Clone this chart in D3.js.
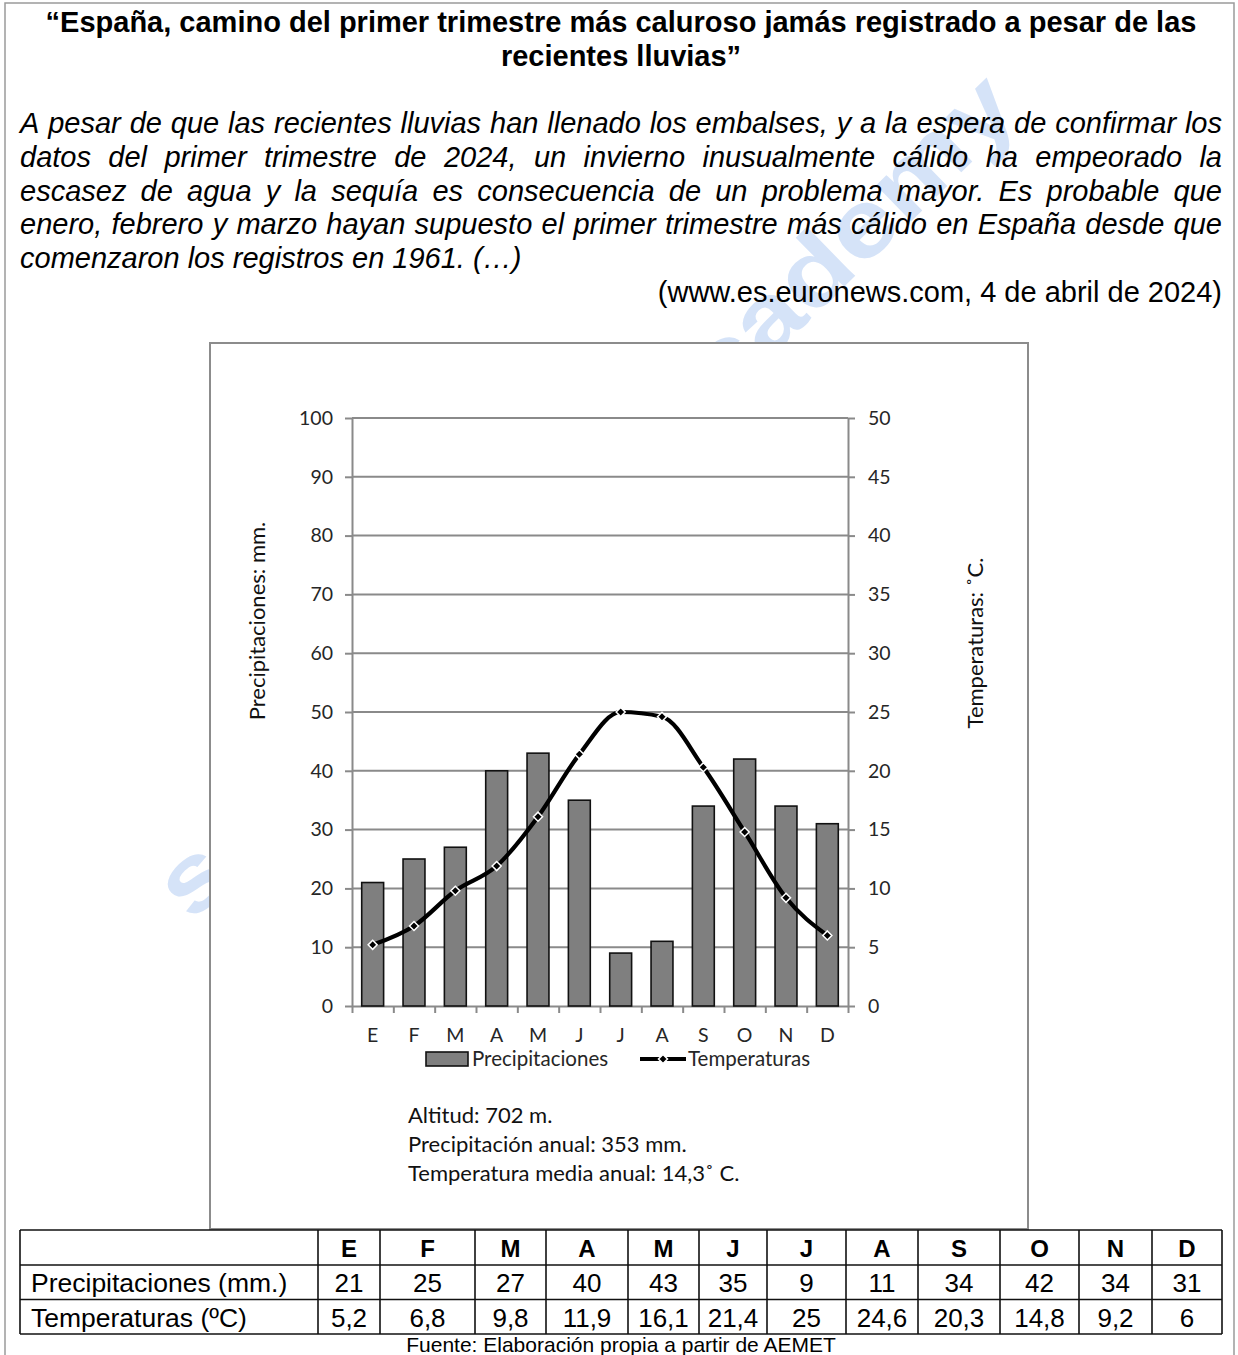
<!DOCTYPE html>
<html>
<head>
<meta charset="utf-8">
<script src="https://cdn.jsdelivr.net/npm/d3@7"></script>
<style>
  body { margin: 0; background: #fff; }
  svg { display: block; }
</style>
</head>
<body>
<div id="page"></div>
<script>
const months = ['E', 'F', 'M', 'A', 'M', 'J', 'J', 'A', 'S', 'O', 'N', 'D'];
const precip = [21, 25, 27, 40, 43, 35, 9, 11, 34, 42, 34, 31];
const temps = [5.2, 6.8, 9.8, 11.9, 16.1, 21.4, 25, 24.6, 20.3, 14.8, 9.2, 6];
const precipTicks = [0, 10, 20, 30, 40, 50, 60, 70, 80, 90, 100];
const tempTicks = [0, 5, 10, 15, 20, 25, 30, 35, 40, 45, 50];

const titleLines = [
  '“España, camino del primer trimestre más caluroso jamás registrado a pesar de las',
  'recientes lluvias”'
];
const paragraphLines = [
  'A pesar de que las recientes lluvias han llenado los embalses, y a la espera de confirmar los',
  'datos del primer trimestre de 2024, un invierno inusualmente cálido ha empeorado la',
  'escasez de agua y la sequía es consecuencia de un problema mayor. Es probable que',
  'enero, febrero y marzo hayan supuesto el primer trimestre más cálido en España desde que',
  'comenzaron los registros en 1961. (…)'
];
const sourceText = '(www.es.euronews.com, 4 de abril de 2024)';
const stationInfo = [
  'Altitud: 702 m.',
  'Precipitación anual: 353 mm.',
  'Temperatura media anual: 14,3˚ C.'
];
const rowLabels = ['Precipitaciones (mm.)', 'Temperaturas (ºC)'];
const footnote = 'Fuente: Elaboración propia a partir de AEMET';

const W = 1238;
const H = 1355;
const SANS = '"Liberation Sans", Arial, sans-serif';
const CAL = 'Lato, "Open Sans", sans-serif';
const GRID = '#8a8a8a';

const svg = d3.select('#page').append('svg')
  .attr('width', W)
  .attr('height', H);

// faint watermark, mostly hidden by the chart box
svg.append('text')
  .attr('transform', 'translate(192,923) rotate(-44.3)')
  .attr('textLength', 1160)
  .attr('lengthAdjust', 'spacingAndGlyphs')
  .style('font-family', SANS)
  .style('font-weight', 'bold')
  .style('font-size', '95px')
  .style('fill', '#d5e3f8')
  .text('selectividad academy');

// page frame
svg.append('rect')
  .attr('x', 5).attr('y', 3)
  .attr('width', 1229).attr('height', 1370)
  .attr('fill', 'none')
  .attr('stroke', '#9a9a9a')
  .attr('stroke-width', 1.5);

// title
svg.append('g')
  .selectAll('text')
  .data(titleLines)
  .enter()
  .append('text')
  .attr('x', 621)
  .attr('y', (d, i) => 32 + i * 34)
  .attr('text-anchor', 'middle')
  .style('font-family', SANS)
  .style('font-weight', 'bold')
  .style('font-size', '29px')
  .text(d => d);

// justified italic paragraph
const para = svg.append('g')
  .style('font-family', SANS)
  .style('font-style', 'italic')
  .style('font-size', '29px');

const measure = para.append('text');
const wordWidth = w => { measure.text(w); return measure.node().getComputedTextLength(); };

paragraphLines.forEach((line, li) => {
  const y = 133 + li * 33.8;
  const words = line.split(' ');
  const t = para.append('text').attr('y', y);
  if (li === paragraphLines.length - 1) {
    t.attr('x', 20).text(line);
    return;
  }
  const widths = words.map(wordWidth);
  const gap = (1222 - 20 - d3.sum(widths)) / (words.length - 1);
  let x = 20;
  words.forEach((w, wi) => {
    t.append('tspan').attr('x', x).text(w);
    x += widths[wi] + gap;
  });
});
measure.remove();

svg.append('text')
  .attr('x', 1222)
  .attr('y', 302)
  .attr('text-anchor', 'end')
  .style('font-family', SANS)
  .style('font-size', '29px')
  .text(sourceText);

// chart box
svg.append('rect')
  .attr('x', 210).attr('y', 343)
  .attr('width', 818).attr('height', 886)
  .attr('fill', '#fff')
  .attr('stroke', '#8c8c8c')
  .attr('stroke-width', 2);

const plot = { left: 352, right: 848, top: 418, bottom: 1006 };

const x = d3.scaleBand()
  .domain(d3.range(months.length))
  .range([plot.left, plot.right])
  .paddingInner(0.47)
  .paddingOuter(0.235);
const xEdge = d3.scaleLinear().domain([0, months.length]).range([plot.left, plot.right]);
const yP = d3.scaleLinear().domain([0, 100]).range([plot.bottom, plot.top]);
const yT = d3.scaleLinear().domain([0, 50]).range([plot.bottom, plot.top]);
const cx = i => x(i) + x.bandwidth() / 2;

// gridlines
svg.append('g')
  .selectAll('line')
  .data(precipTicks.slice(1))
  .enter()
  .append('line')
  .attr('x1', plot.left).attr('x2', plot.right)
  .attr('y1', d => yP(d)).attr('y2', d => yP(d))
  .attr('stroke', GRID)
  .attr('stroke-width', 2);

const styleAxis = g => {
  g.select('.domain').attr('stroke', GRID).attr('stroke-width', 2);
  g.selectAll('.tick line').attr('stroke', GRID).attr('stroke-width', 2);
  g.selectAll('.tick text')
    .style('font-family', CAL)
    .style('font-size', '19.5px')
    .attr('fill', '#262626');
};

svg.append('g')
  .attr('transform', `translate(${plot.left},0)`)
  .call(d3.axisLeft(yP).tickValues(precipTicks).tickSizeInner(7).tickSizeOuter(0).tickPadding(12))
  .call(styleAxis);

svg.append('g')
  .attr('transform', `translate(${plot.right},0)`)
  .call(d3.axisRight(yT).tickValues(tempTicks).tickSizeInner(7).tickSizeOuter(0).tickPadding(13))
  .call(styleAxis);

// bottom axis: ticks at month boundaries, labels under bars
svg.append('g')
  .attr('transform', `translate(0,${plot.bottom})`)
  .call(d3.axisBottom(xEdge).tickValues(d3.range(months.length + 1)).tickFormat('').tickSizeInner(7).tickSizeOuter(0))
  .call(styleAxis);

svg.append('g')
  .attr('transform', `translate(0,${plot.bottom})`)
  .call(d3.axisBottom(x).tickFormat(i => months[i]).tickSize(0).tickPadding(22))
  .call(g => g.select('.domain').remove())
  .call(styleAxis);

// precipitation bars
svg.append('g')
  .selectAll('rect')
  .data(precip)
  .enter()
  .append('rect')
  .attr('x', (d, i) => x(i))
  .attr('y', d => yP(d))
  .attr('width', x.bandwidth())
  .attr('height', d => yP(0) - yP(d))
  .attr('fill', '#7f7f7f')
  .attr('stroke', '#111')
  .attr('stroke-width', 1.6);

// temperature line
const line = d3.line()
  .x((d, i) => cx(i))
  .y(d => yT(d))
  .curve(d3.curveMonotoneX);

svg.append('path')
  .datum(temps)
  .attr('d', line)
  .attr('fill', 'none')
  .attr('stroke', '#000')
  .attr('stroke-width', 4.2)
  .attr('stroke-linejoin', 'round');

const diamond = d3.symbol().type(d3.symbolDiamond2).size(52);

svg.append('g')
  .selectAll('path')
  .data(temps)
  .enter()
  .append('path')
  .attr('d', diamond)
  .attr('transform', (d, i) => `translate(${cx(i)},${yT(d)})`)
  .attr('fill', '#000')
  .attr('stroke', '#fff')
  .attr('stroke-width', 1.5);

// axis titles
svg.append('text')
  .attr('transform', 'translate(265,621) rotate(-90)')
  .attr('text-anchor', 'middle')
  .style('font-family', CAL)
  .style('font-size', '22px')
  .attr('fill', '#111')
  .text('Precipitaciones: mm.');

svg.append('text')
  .attr('transform', 'translate(983,643) rotate(-90)')
  .attr('text-anchor', 'middle')
  .style('font-family', CAL)
  .style('font-size', '22px')
  .attr('fill', '#111')
  .text('Temperaturas: ˚C.');

// legend
const legend = svg.append('g')
  .style('font-family', CAL)
  .style('font-size', '20.5px')
  .attr('fill', '#262626');

legend.append('rect')
  .attr('x', 426).attr('y', 1052)
  .attr('width', 42).attr('height', 14)
  .attr('fill', '#7f7f7f')
  .attr('stroke', '#111')
  .attr('stroke-width', 1.6);
legend.append('text').attr('x', 472).attr('y', 1066).text('Precipitaciones');

legend.append('line')
  .attr('x1', 640).attr('x2', 686)
  .attr('y1', 1059).attr('y2', 1059)
  .attr('stroke', '#000')
  .attr('stroke-width', 4.2);
legend.append('path')
  .attr('d', diamond)
  .attr('transform', 'translate(663,1059)')
  .attr('fill', '#000')
  .attr('stroke', '#fff')
  .attr('stroke-width', 1.5);
legend.append('text').attr('x', 688).attr('y', 1066).text('Temperaturas');

// station info
svg.append('g')
  .selectAll('text')
  .data(stationInfo)
  .enter()
  .append('text')
  .attr('x', 408)
  .attr('y', (d, i) => 1123 + i * 29)
  .style('font-family', CAL)
  .style('font-size', '22px')
  .attr('fill', '#111')
  .text(d => d);

// data table
const colEdges = [20, 318, 380, 475, 546, 628, 699, 767, 846, 918, 1000, 1079, 1152, 1222];
const rowEdges = [1230, 1265, 1299.5, 1334];
const table = svg.append('g');

table.append('rect')
  .attr('x', colEdges[0]).attr('y', rowEdges[0])
  .attr('width', colEdges[colEdges.length - 1] - colEdges[0])
  .attr('height', rowEdges[3] - rowEdges[0])
  .attr('fill', '#fff');

table.selectAll('line.h')
  .data(rowEdges)
  .enter()
  .append('line')
  .attr('x1', colEdges[0]).attr('x2', colEdges[colEdges.length - 1])
  .attr('y1', d => d).attr('y2', d => d)
  .attr('stroke', '#111').attr('stroke-width', 1.6);

table.selectAll('line.v')
  .data(colEdges)
  .enter()
  .append('line')
  .attr('x1', d => d).attr('x2', d => d)
  .attr('y1', rowEdges[0]).attr('y2', rowEdges[3])
  .attr('stroke', '#111').attr('stroke-width', 1.6);

const colMid = i => (colEdges[i + 1] + colEdges[i + 2]) / 2;

table.selectAll('text.head')
  .data(months)
  .enter()
  .append('text')
  .attr('x', (d, i) => colMid(i))
  .attr('y', 1257)
  .attr('text-anchor', 'middle')
  .style('font-family', SANS)
  .style('font-weight', 'bold')
  .style('font-size', '24px')
  .text(d => d);

const rows = [precip.map(String), temps.map(v => String(v).replace('.', ','))];
rows.forEach((vals, r) => {
  const y = 1292 + r * 35;
  table.append('text')
    .attr('x', 31).attr('y', y)
    .style('font-family', SANS)
    .style('font-size', '26.5px')
    .text(rowLabels[r]);
  table.selectAll(null)
    .data(vals)
    .enter()
    .append('text')
    .attr('x', (d, i) => colMid(i))
    .attr('y', y)
    .attr('text-anchor', 'middle')
    .style('font-family', SANS)
    .style('font-size', '26px')
    .text(d => d);
});

svg.append('text')
  .attr('x', 621).attr('y', 1352)
  .attr('text-anchor', 'middle')
  .style('font-family', SANS)
  .style('font-size', '21px')
  .text(footnote);
</script>
</body>
</html>
